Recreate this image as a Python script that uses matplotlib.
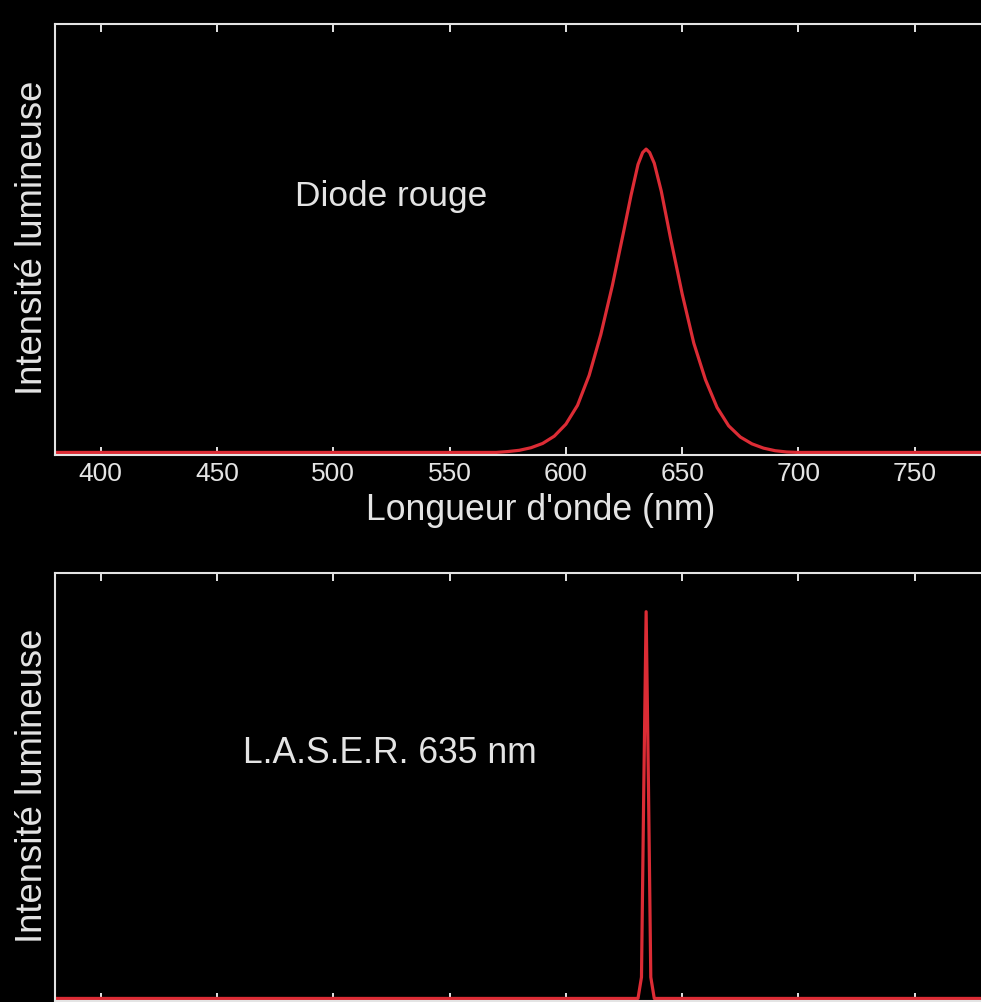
import matplotlib.pyplot as plt

plt.rcParams['font.family'] = ['Liberation Sans', 'DejaVu Sans']

# Red diode emission spectrum (normalised intensity)
diode_nm = [380, 450, 550, 570, 575, 580, 585, 590, 595, 600, 605, 610, 615,
            620, 625, 628, 631, 633, 634.5, 636, 638, 641, 645, 650, 655, 660,
            665, 670, 675, 680, 685, 690, 695, 700, 750, 780]
diode_int = [0.0, 0.0, 0.0, 0.0, 0.002, 0.005, 0.011, 0.021, 0.038, 0.066,
             0.110, 0.180, 0.275, 0.39, 0.52, 0.60, 0.672, 0.700, 0.708, 0.700,
             0.675, 0.61, 0.50, 0.37, 0.255, 0.17, 0.105, 0.062, 0.036, 0.020,
             0.010, 0.004, 0.001, 0.0, 0.0, 0.0]

# 635 nm laser line
laser_nm = [380, 500, 600, 631.0, 632.5, 633.5, 634.5, 635.5, 636.5, 638.0,
            700, 780]
laser_int = [0.0, 0.0, 0.0, 0.0, 0.05, 0.5, 0.909, 0.5, 0.05, 0.0, 0.0, 0.0]

xticks = [400, 450, 500, 550, 600, 650, 700, 750]
xlim = (380.3, 778.5)

line_color = '#dc2c35'
fg = '#e4e4e4'
W, H = 981, 1002

fig = plt.figure(figsize=(W / 100, H / 100), dpi=100, facecolor='black')

def make_axes(top_px, bottom_px):
    ax = fig.add_axes([55 / W, 1 - bottom_px / H, 1 - 55 / W,
                       (bottom_px - top_px) / H])
    ax.set_facecolor('black')
    for side in ('left', 'top', 'bottom'):
        ax.spines[side].set_color(fg)
        ax.spines[side].set_linewidth(1.5)
    ax.spines['right'].set_visible(False)
    ax.set_xlim(*xlim)
    ax.set_ylim(-0.006, 1.0)
    ax.set_xticks(xticks)
    ax.set_yticks([])
    ax.tick_params(axis='x', direction='in', top=True, bottom=True,
                   length=6, width=1.4, color=fg, labelcolor=fg,
                   labelsize=19, pad=5)
    return ax

def ylabel(center_px):
    fig.text(42 / W, 1 - center_px / H, 'Intensité lumineuse', color=fg,
             fontsize=26.3, rotation=90, rotation_mode='anchor',
             ha='center', va='baseline')

# top panel: diode
ax1 = make_axes(24, 455)
ax1.plot(diode_nm, diode_int, color=line_color, lw=2.3)
ax1.text((391 - 55) / 926, 0.578, 'Diode rouge', transform=ax1.transAxes,
         color=fg, fontsize=25.4, ha='center', va='baseline')
fig.text(541 / W, 1 - 520 / H, "Longueur d'onde (nm)", color=fg,
         fontsize=25.7, ha='center', va='baseline')
ylabel(238)

# bottom panel: laser
ax2 = make_axes(573, 1001)
ax2.tick_params(axis='x', labelbottom=False)
ax2.plot(laser_nm, laser_int, color=line_color, lw=2.3)
ax2.text((389.5 - 55) / 926, 0.555, 'L.A.S.E.R. 635 nm',
         transform=ax2.transAxes, color=fg, fontsize=25.6, ha='center',
         va='baseline')
ylabel(786)

fig.savefig('out.png', dpi=100, facecolor='black')
